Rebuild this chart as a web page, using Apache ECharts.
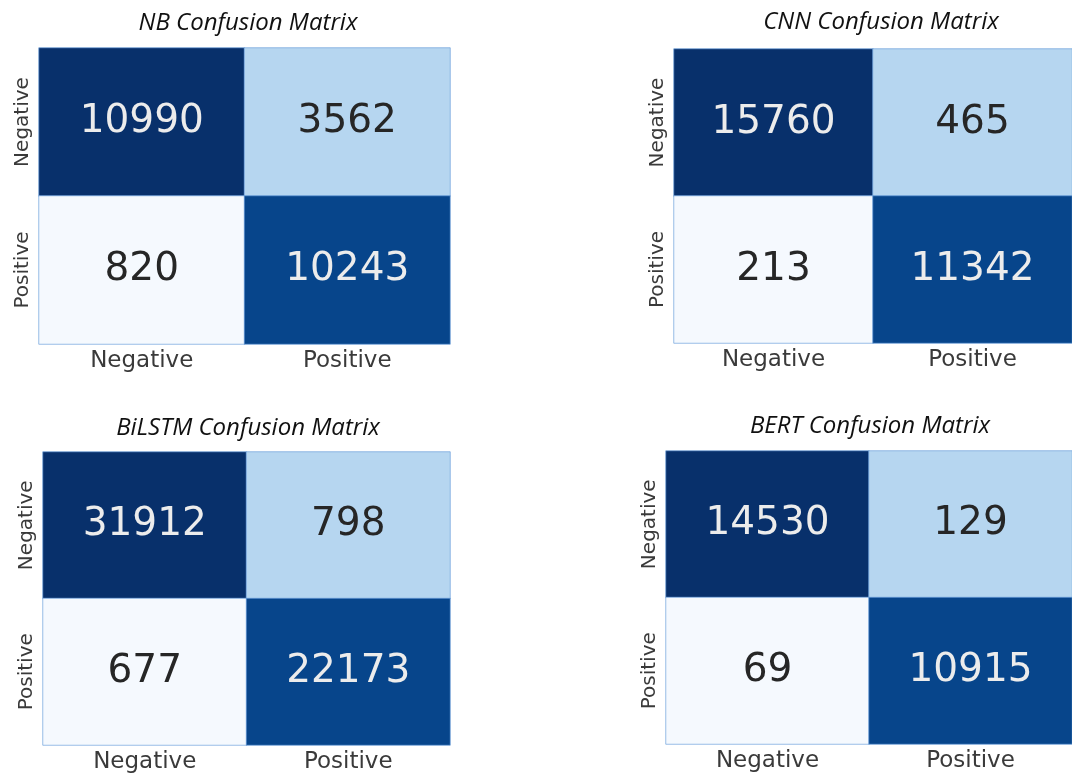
<!DOCTYPE html>
<html>
<head>
<meta charset="utf-8">
<script src="https://cdn.jsdelivr.net/npm/echarts@6/dist/echarts.min.js"></script>
<style>
  html, body { margin: 0; padding: 0; background: #fff; }
  #chart { width: 1072px; height: 774px; }
</style>
</head>
<body>
<div id="chart"></div>
<script>
// class labels (rows = actual, cols = predicted)
const classLabels = ['Negative', 'Positive']

const nbMatrix = [[10990, 3562], [820, 10243]]
const cnnMatrix = [[15760, 465], [213, 11342]]
const bilstmMatrix = [[31912, 798], [677, 22173]]
const bertMatrix = [[14530, 129], [69, 10915]]

const modelNames = ['NB', 'CNN', 'BiLSTM', 'BERT']

// colours by rank of the cell inside its matrix (0 = largest)
const rankColors = ['#08306b', '#07458b', '#b6d6f0', '#f5f9fe']

const panels = [
  { matrix: nbMatrix, grid: { left: 39, top: 48, width: 411, height: 296 }, titleX: 243, titleY: 6 },
  { matrix: cnnMatrix, grid: { left: 674, top: 49, width: 406, height: 294 }, titleX: 876, titleY: 5 },
  { matrix: bilstmMatrix, grid: { left: 43, top: 452, width: 407, height: 294 }, titleX: 243, titleY: 411 },
  { matrix: bertMatrix, grid: { left: 666, top: 451, width: 406, height: 293 }, titleX: 865, titleY: 409 }
]

function toCells(matrix) {
  const flat = []
  matrix.forEach((row, r) => row.forEach((v, c) => flat.push([c, r, v])))
  const sorted = flat.map(d => d[2]).sort((a, b) => b - a)
  return flat.map(d => [d[0], d[1], d[2], sorted.indexOf(d[2])])
}

const chart = echarts.init(document.getElementById('chart'), null, { renderer: 'canvas' })

const title = [], grid = [], xAxis = [], yAxis = [], series = []
panels.forEach((p, i) => {
  title.push({
    text: modelNames[i] + ' Confusion Matrix',
    left: p.titleX, top: p.titleY, textAlign: 'center',
    textStyle: { fontFamily: 'Open Sans', fontStyle: 'italic', fontWeight: 'normal', fontSize: 24, color: '#111' }
  })
  grid.push(p.grid)
  xAxis.push({
    type: 'category', gridIndex: i, data: classLabels,
    axisLine: { show: false }, axisTick: { show: false }, splitLine: { show: false },
    axisLabel: { margin: 6, fontFamily: 'DejaVu Sans', fontSize: 23, color: '#3a3a3a' }
  })
  yAxis.push({
    type: 'category', gridIndex: i, data: classLabels, inverse: true,
    axisLine: { show: false }, axisTick: { show: false }, splitLine: { show: false },
    axisLabel: { rotate: 90, margin: 6, fontFamily: 'DejaVu Sans', fontSize: 20, color: '#3a3a3a' }
  })
  series.push({
    type: 'heatmap', xAxisIndex: i, yAxisIndex: i,
    data: toCells(p.matrix),
    itemStyle: { borderColor: 'rgba(110,160,220,0.7)', borderWidth: 1 },
    label: {
      show: true,
      fontFamily: 'DejaVu Sans', fontSize: 39,
      formatter: d => String(d.value[2]),
      color: '#262626'
    },
    emphasis: { disabled: true }
  })
})

// light text on the two dark cells
series.forEach(s => {
  s.data = s.data.map(d => ({
    value: d,
    label: { color: d[3] < 2 ? '#ececec' : '#262626' }
  }))
})

chart.setOption({
  backgroundColor: '#fff',
  animation: false,
  title, grid, xAxis, yAxis, series,
  visualMap: {
    type: 'piecewise', show: false, dimension: 3,
    seriesIndex: [0, 1, 2, 3],
    pieces: rankColors.map((c, k) => ({ value: k, color: c }))
  }
})
</script>
</body>
</html>
